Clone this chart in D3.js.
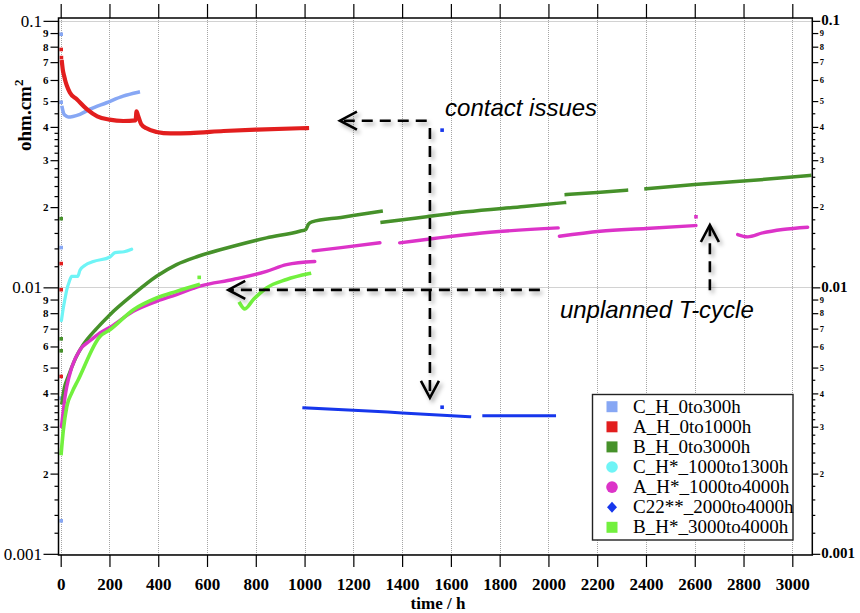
<!DOCTYPE html>
<html>
<head>
<meta charset="utf-8">
<script src="https://cdn.jsdelivr.net/npm/d3@7"></script>
<style>
  html, body { margin: 0; padding: 0; background: #fff; }
  svg { display: block; }
</style>
</head>
<body>
<svg id="chart" width="860" height="613"></svg>
<script>
// ---- Data: [time / h, area-specific resistance / ohm.cm2]; null = break in a trace ----
const seriesNames = ["C_H_0to300h", "A_H_0to1000h", "B_H_0to3000h",
  "C_H*_1000to1300h", "A_H*_1000to4000h", "C22**_2000to4000h", "B_H*_3000to4000h"];

const cH_trace = [[6, 0.0473], [11, 0.0452], [18, 0.0442], [31, 0.0436], [50, 0.0438],
  [79, 0.0446], [120, 0.0466], [188, 0.0493], [256, 0.0522], [318, 0.0540]];
const cH_points = [[2, 0.0891], [2, 0.0495], [2, 0.0141], [2, 0.00384], [2, 0.00133]];

const aH_trace = [[5, 0.0700], [9, 0.0652], [14, 0.0622], [18, 0.0600], [25, 0.0572],
  [38, 0.0537], [66, 0.0508], [107, 0.0466], [150, 0.0438], [200, 0.0426], [257, 0.0421],
  [307, 0.0423], [311, 0.0458], [317, 0.0442], [330, 0.0410], [352, 0.0395], [393, 0.0383],
  [450, 0.0378], [531, 0.0379], [668, 0.0386], [805, 0.0391], [1010, 0.0396]];
const aH_points = [[2, 0.0781], [3, 0.0728], [2, 0.01228], [2, 0.0098], [2, 0.00463]];

const bH_trace = [[5, 0.00369], [15, 0.0042], [31, 0.00463], [60, 0.0054], [93, 0.0061],
  [147, 0.0070], [202, 0.0079], [297, 0.0094], [393, 0.0110],
  [475, 0.01217], [564, 0.01308], [707, 0.01426], [844, 0.01533], [980, 0.01624], [1005, 0.0165],
  [1015, 0.0172], [1030, 0.0176], [1150, 0.0183], [1314, 0.0193], null,
  [1318, 0.01755], [1500, 0.0184], [1664, 0.0192], [1900, 0.0201], [2066, 0.0208], null,
  [2073, 0.0223], [2200, 0.0227], [2320, 0.02315], null,
  [2400, 0.02344], [2600, 0.0243], [2784, 0.0250], [2950, 0.0257], [3071, 0.0263]];
const bH_points = [[2, 0.0181], [2, 0.00641], [2, 0.00578]];

const cHs_trace = [[3, 0.0075], [10, 0.0083], [18, 0.0091], [25, 0.0098], [35, 0.0105],
  [45, 0.0110], [70, 0.0110], [79, 0.0116], [100, 0.0121], [134, 0.0125], [202, 0.0130],
  [223, 0.0135], [260, 0.0136], [291, 0.0139]];
const cHs_points = [];

const aHs_trace = [[3, 0.0030], [10, 0.0034], [18, 0.00389], [25, 0.00424], [45, 0.0050],
  [79, 0.00583], [120, 0.0063], [161, 0.00674], [202, 0.00708], [298, 0.00813], [393, 0.00886],
  [475, 0.00939], [543, 0.0099], [571, 0.0101], [707, 0.0107], [844, 0.01148],
  [926, 0.01217], [1042, 0.0125], null,
  [1035, 0.0137], [1150, 0.0141], [1309, 0.0147], null,
  [1390, 0.01469], [1760, 0.0161], [2040, 0.01672], null,
  [2045, 0.01555], [2212, 0.01624], [2400, 0.01663], [2605, 0.01706], null,
  [2776, 0.01578], [2817, 0.01547], [2878, 0.0160], [2960, 0.01648], [3063, 0.01681]];
const aHs_points = [[2605, 0.0184]];

const c22_trace = [[997, 0.00353], [1200, 0.00346], [1400, 0.00338], [1677, 0.00327], null,
  [1735, 0.0033], [2025, 0.0033]];
const c22_points = [[1564, 0.00355], [1564, 0.0389]];

const bHs_trace = [[2, 0.00238], [11, 0.00292], [25, 0.00357], [45, 0.00401], [72, 0.0045],
  [161, 0.00654], [202, 0.00693], [298, 0.00824], [393, 0.00912], [475, 0.00966],
  [564, 0.01023], null,
  [735, 0.0087], [755, 0.0083], [790, 0.0090], [844, 0.00995], [926, 0.0107], [1020, 0.01126]];
const bHs_points = [[568, 0.0109]];

// ---- Axis tick values ----
const xTickValues = [0, 200, 400, 600, 800, 1000, 1200, 1400, 1600, 1800, 2000,
  2200, 2400, 2600, 2800, 3000];
const yDecades = [0.001, 0.01, 0.1];
const yDecadeLabels = ["0.001", "0.01", "0.1"];
const yLabelDigits = [2, 3, 4, 5, 6, 7, 8, 9];
const yMinorSteps = [1.2, 1.4, 1.6, 1.8, 2.2, 2.4, 2.6, 2.8, 3.2, 3.4, 3.6, 3.8, 4.5];

// ---- Annotations (data coordinates) ----
const noteTexts = ["contact issues", "unplanned T-cycle"];
const notePos = [[1576, 0.0439], [2047, 0.00768]];
const arrowPaths = [
  [[1501, 0.0422], [1145, 0.0422]],
  [[1514, 0.0396], [1514, 0.00385]],
  [[1965, 0.00978], [687, 0.00978]],
  [[2662, 0.00975], [2662, 0.01714]]
];

// ---- Styles per series ----
const styles = [
  { color: "#87a7f4", shape: "square", width: 3.6 },
  { color: "#e21e1e", shape: "square", width: 4.2 },
  { color: "#46912a", shape: "square", width: 3.5 },
  { color: "#6ff4f6", shape: "circle", width: 3.2 },
  { color: "#dc33c8", shape: "circle", width: 3.4 },
  { color: "#1737ec", shape: "diamond", width: 3.0 },
  { color: "#72f03e", shape: "square", width: 3.6 }
];
const traces = [cH_trace, aH_trace, bH_trace, cHs_trace, aHs_trace, c22_trace, bHs_trace];
const strays = [cH_points, aH_points, bH_points, cHs_points, aHs_points, c22_points, bHs_points];
const series = seriesNames.map((name, i) => ({ name, trace: traces[i], points: strays[i], ...styles[i] }));

// ---- Layout ----
const pL = 58.5, pR = 812.3, pT = 18, pB = 555;
const serif = "'Liberation Serif', 'Times New Roman', serif";
const sans = "'Liberation Sans', Arial, sans-serif";

const x = d3.scaleLinear().domain([-9, 3082]).range([pL, pR]);
const y = d3.scaleLog().domain([0.00099, 0.1025]).range([pB, pT]);

const svg = d3.select("#chart");
const defs = svg.append("defs");
const f = defs.append("filter").attr("id", "shadow").attr("filterUnits", "userSpaceOnUse")
  .attr("x", 0).attr("y", 0).attr("width", 860).attr("height", 613);
f.append("feDropShadow").attr("dx", 2.5).attr("dy", 3).attr("stdDeviation", 2)
  .attr("flood-color", "#000").attr("flood-opacity", 0.35);

defs.append("clipPath").attr("id", "plotclip").append("rect")
  .attr("x", pL).attr("y", pT).attr("width", pR - pL).attr("height", pB - pT);

// ---- Grid ----
const grid = svg.append("g").attr("stroke", "#a5a5a5").attr("stroke-width", 1)
  .attr("stroke-dasharray", "1,1");
grid.selectAll("line.v").data(xTickValues).join("line").attr("class", "v")
  .attr("x1", d => Math.round(x(d)) + 0.5).attr("x2", d => Math.round(x(d)) + 0.5)
  .attr("y1", pT).attr("y2", pB);
grid.selectAll("line.h").data(yDecades).join("line").attr("class", "h")
  .attr("x1", pL).attr("x2", pR)
  .attr("y1", d => Math.round(y(d)) + 0.5).attr("y2", d => Math.round(y(d)) + 0.5);

// ---- Axes ----
function styleAxis(g, size, weight) {
  g.select(".domain").remove();
  g.selectAll(".tick line").attr("stroke", "#000").attr("stroke-width", 1.2);
  g.selectAll(".tick text").attr("fill", "#000").style("font-family", serif)
    .style("font-size", size + "px").style("font-weight", weight);
}
const labeledMinor = [0.001, 0.01].flatMap(dec => yLabelDigits.map(k => k * dec));
const unlabeledMinor = [0.001, 0.01].flatMap(dec => yMinorSteps.map(k => k * dec));
const digitFmt = d => String(Math.round(d / Math.pow(10, Math.floor(Math.log10(d) + 1e-9))));
const decadeFmt = d => yDecadeLabels[yDecades.indexOf(d)];

svg.append("g").attr("transform", `translate(0,${pB})`)
  .call(d3.axisBottom(x).tickValues(xTickValues).tickSize(12).tickPadding(11).tickFormat(d3.format("d")))
  .call(g => styleAxis(g, 17, "bold"));
svg.append("g").attr("transform", `translate(0,${pT})`)
  .call(d3.axisTop(x).tickValues(xTickValues).tickSize(14).tickFormat(""))
  .call(g => styleAxis(g, 10, "normal"));

svg.append("g").attr("transform", `translate(${pL},0)`)
  .call(d3.axisLeft(y).tickValues(yDecades).tickSize(15).tickPadding(1.5).tickFormat(decadeFmt))
  .call(g => styleAxis(g, 17, "normal"));
svg.append("g").attr("transform", `translate(${pL},0)`)
  .call(d3.axisLeft(y).tickValues(labeledMinor).tickSize(8).tickPadding(2).tickFormat(digitFmt))
  .call(g => styleAxis(g, 11, "bold"));
svg.append("g").attr("transform", `translate(${pL},0)`)
  .call(d3.axisLeft(y).tickValues(unlabeledMinor).tickSize(4).tickFormat(""))
  .call(g => styleAxis(g, 10, "normal"));

svg.append("g").attr("transform", `translate(${pR},0)`)
  .call(d3.axisRight(y).tickValues(yDecades).tickSize(8).tickPadding(1).tickFormat(decadeFmt))
  .call(g => styleAxis(g, 15, "bold"))
  .call(g => g.selectAll(".tick text").attr("dy", "0.25em"));
svg.append("g").attr("transform", `translate(${pR},0)`)
  .call(d3.axisRight(y).tickValues(labeledMinor).tickSize(6).tickPadding(1.5).tickFormat(digitFmt))
  .call(g => styleAxis(g, 8.5, "bold"));
svg.append("g").attr("transform", `translate(${pR},0)`)
  .call(d3.axisRight(y).tickValues(unlabeledMinor).tickSize(3).tickFormat(""))
  .call(g => styleAxis(g, 10, "normal"));

// Axis titles
const yTitle = svg.append("text").attr("transform", "translate(31,151) rotate(-90)")
  .style("font-family", serif).style("font-size", "19px").style("font-weight", "bold");
yTitle.append("tspan").text("ohm.cm");
yTitle.append("tspan").attr("dy", -8).style("font-size", "13px").text("2");

svg.append("text").attr("x", 438).attr("y", 609).attr("text-anchor", "middle")
  .style("font-family", serif).style("font-size", "17px").style("font-weight", "bold")
  .text("time / h");

// ---- Data traces ----
const line = d3.line().defined(d => d !== null)
  .x(d => x(d[0])).y(d => y(d[1])).curve(d3.curveMonotoneX);

const plot = svg.append("g").attr("clip-path", "url(#plotclip)");
series.forEach(s => {
  plot.append("path").datum(s.trace).attr("d", line)
    .attr("fill", "none").attr("stroke", s.color).attr("stroke-width", s.width)
    .attr("stroke-linejoin", "round")
    .attr("stroke-linecap", s.shape === "circle" ? "round" : "square");
  plot.selectAll(null).data(s.points).join("rect")
    .attr("x", d => x(d[0]) - 1.8).attr("y", d => y(d[1]) - 1.8)
    .attr("width", 3.6).attr("height", 3.6).attr("fill", s.color);
});

// ---- Frame ----
svg.append("rect").attr("x", pL).attr("y", pT).attr("width", pR - pL)
  .attr("height", pB - pT).attr("fill", "none").attr("stroke", "#000").attr("stroke-width", 1.5);

// ---- Annotations ----
const notes = svg.append("g");
noteTexts.forEach((t, i) => {
  notes.append("text").attr("x", x(notePos[i][0])).attr("y", y(notePos[i][1]))
    .style("font-family", sans).style("font-style", "italic").style("font-size", "24px")
    .attr("fill", "#000").text(t);
});
const arrows = svg.append("g").attr("filter", "url(#shadow)")
  .attr("stroke", "#000").attr("fill", "none").attr("stroke-width", 2.6);
arrowPaths.forEach(p => {
  const x0 = x(p[0][0]), y0 = y(p[0][1]), x1 = x(p[1][0]), y1 = y(p[1][1]);
  const len = Math.hypot(x1 - x0, y1 - y0), ux = (x1 - x0) / len, uy = (y1 - y0) / len;
  arrows.append("line").attr("x1", x0).attr("y1", y0).attr("x2", x1 - ux * 2).attr("y2", y1 - uy * 2)
    .attr("stroke-dasharray", "11,7");
  const back = 17, spread = 9;
  const bx = x1 - ux * back, by = y1 - uy * back;
  arrows.append("polyline").attr("stroke-linejoin", "miter")
    .attr("points", [[bx - uy * spread, by + ux * spread], [x1, y1], [bx + uy * spread, by - ux * spread]]
      .map(q => q.join(",")).join(" "));
});

// ---- Legend ----
const lg = svg.append("g");
lg.append("rect").attr("x", 592.5).attr("y", 394.5).attr("width", 200.5).attr("height", 145.5)
  .attr("fill", "#fff").attr("stroke", "#222").attr("stroke-width", 1.4);
series.forEach((s, i) => {
  const by = 412.7 + i * 20.1, cx = 612, cy = by - 6;
  if (s.shape === "square") {
    lg.append("rect").attr("x", cx - 5.5).attr("y", cy - 5.5).attr("width", 11).attr("height", 11).attr("fill", s.color);
  } else if (s.shape === "circle") {
    lg.append("circle").attr("cx", cx).attr("cy", cy).attr("r", 5.8).attr("fill", s.color);
  } else {
    lg.append("polygon").attr("points", `${cx},${cy - 5.5} ${cx + 5},${cy} ${cx},${cy + 5.5} ${cx - 5},${cy}`)
      .attr("fill", s.color);
  }
  lg.append("text").attr("x", 633).attr("y", by)
    .style("font-family", serif).style("font-size", "19px").attr("fill", "#000").text(s.name);
});
</script>
</body>
</html>
